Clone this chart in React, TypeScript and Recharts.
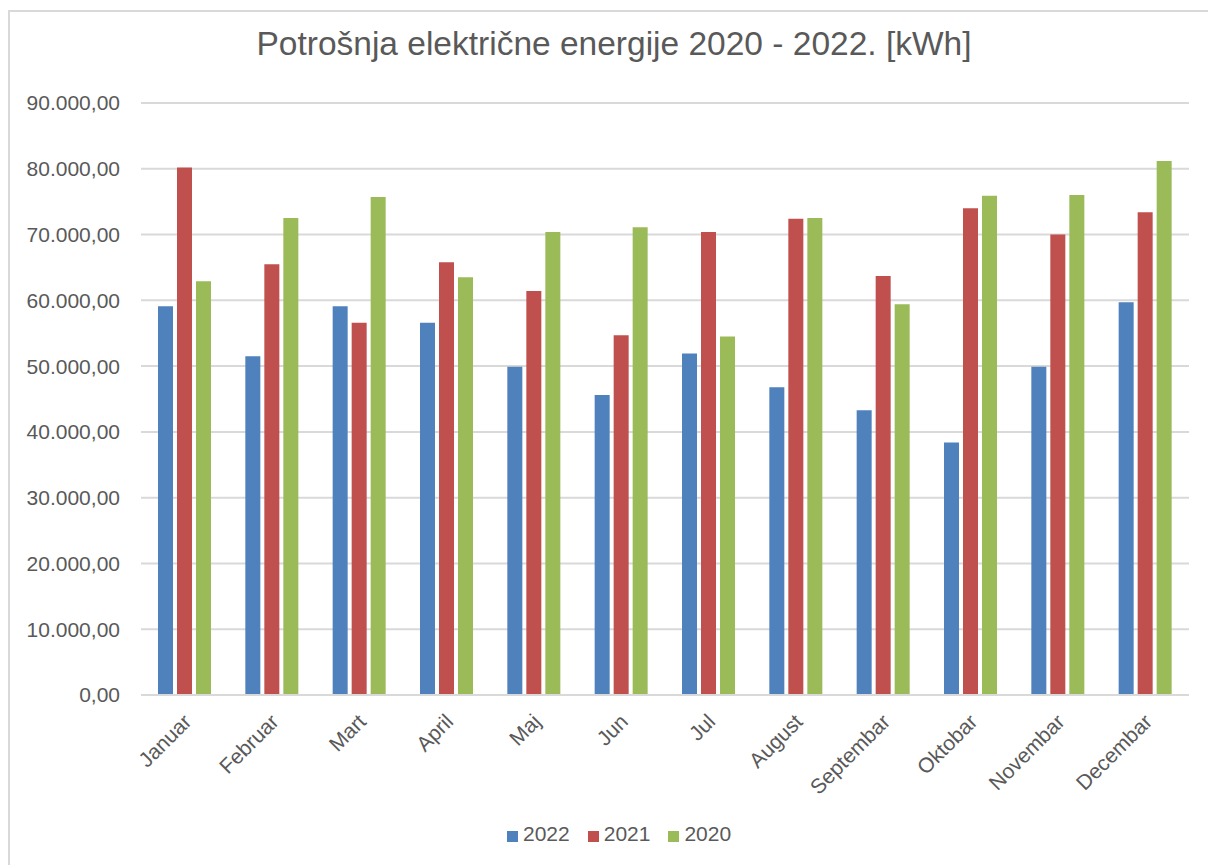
import React from 'react';
import { BarChart, Bar, XAxis, YAxis, CartesianGrid, Legend } from 'recharts';

const months = [
  'Januar', 'Februar', 'Mart', 'April', 'Maj', 'Jun',
  'Jul', 'August', 'Septembar', 'Oktobar', 'Novembar', 'Decembar',
];
const values2022 = [59100, 51500, 59100, 56600, 49900, 45600, 51900, 46800, 43300, 38400, 49900, 59700];
const values2021 = [80200, 65500, 56600, 65800, 61400, 54700, 70400, 72400, 63700, 74000, 70000, 73400];
const values2020 = [62900, 72500, 75700, 63500, 70400, 71100, 54500, 72500, 59400, 75900, 76000, 81200];
const yTicks = [0, 10000, 20000, 30000, 40000, 50000, 60000, 70000, 80000, 90000];

const series = [
  { key: 'y2022', name: '2022', color: '#4f81bd' },
  { key: 'y2021', name: '2021', color: '#c0504d' },
  { key: 'y2020', name: '2020', color: '#9bbb59' },
];

const data = months.map((m, i) => ({
  name: m,
  y2022: values2022[i],
  y2021: values2021[i],
  y2020: values2020[i],
}));

const FONT = '"Liberation Sans", Arial, sans-serif';
const TEXT = '#595959';

// 90000 -> "90.000,00"
const fmt = (v: number) =>
  Math.round(v).toString().replace(/\B(?=(\d{3})+(?!\d))/g, '.') + ',00';

const MonthTick = (props: any) => {
  const { x, y, payload } = props;
  return (
    <g transform={`translate(${x + 8},${y + 28})`}>
      <text
        x={0}
        y={0}
        textAnchor="end"
        transform="rotate(-45)"
        fill={TEXT}
        fontSize={21}
        fontFamily={FONT}
      >
        {payload.value}
      </text>
    </g>
  );
};

const LegendContent = () => (
  <div style={{ display: 'flex', fontFamily: FONT, fontSize: 21, color: TEXT, lineHeight: '24px' }}>
    {series.map((s, i) => (
      <div key={s.key} style={{ display: 'flex', marginLeft: i === 0 ? 0 : 18 }}>
        <span style={{ width: 11, height: 11, background: s.color, marginTop: 9, marginRight: 5 }} />
        <span>{s.name}</span>
      </div>
    ))}
  </div>
);

export default function App() {
  return (
    <div style={{ position: 'absolute', left: 0, top: 0, width: 1208, height: 865, overflow: 'hidden', background: '#fff' }}>
      <div
        style={{
          position: 'absolute',
          left: 8,
          top: 10,
          width: 1220,
          height: 870,
          borderLeft: '2px solid #d9d9d9',
          borderTop: '2px solid #d9d9d9',
        }}
      >
        <div
          style={{
            position: 'absolute',
            left: 0,
            top: 13,
            width: 1208,
            textAlign: 'center',
            fontFamily: FONT,
            fontSize: 33.5,
            color: TEXT,
            lineHeight: '38px',
          }}
        >
          Potrošnja električne energije 2020 - 2022. [kWh]
        </div>
        <BarChart
          width={1208}
          height={853}
          data={data}
          margin={{ top: 91, right: 29, left: 0, bottom: 0 }}
          barGap={4}
          barSize={15}
        >
          <CartesianGrid vertical={false} stroke="#d9d9d9" strokeWidth={2} />
          <XAxis
            dataKey="name"
            height={170}
            interval={0}
            tickLine={false}
            tickSize={0}
            tickMargin={0}
            axisLine={{ stroke: '#d9d9d9', strokeWidth: 2 }}
            tick={<MonthTick />}
          />
          <YAxis
            width={131}
            domain={[0, 90000]}
            ticks={yTicks}
            tickFormatter={fmt}
            axisLine={false}
            tickLine={false}
            tickSize={0}
            tickMargin={21}
            tick={{ fill: TEXT, fontSize: 21, fontFamily: FONT }}
          />
          <Legend
            layout="horizontal"
            verticalAlign="middle"
            align="center"
            content={<LegendContent />}
            wrapperStyle={{ left: 497, top: 810, width: 260 }}
          />
          {series.map((s) => (
            <Bar key={s.key} dataKey={s.key} name={s.name} fill={s.color} isAnimationActive={false} />
          ))}
        </BarChart>
      </div>
    </div>
  );
}
